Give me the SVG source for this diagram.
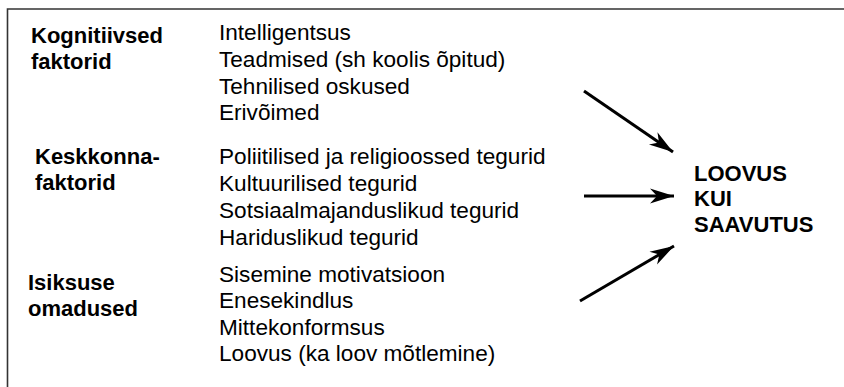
<svg xmlns="http://www.w3.org/2000/svg" width="844" height="387" viewBox="0 0 844 387">
<defs>
<style>
.t{font-family:"Liberation Sans",Arial,sans-serif;font-size:22.6px;fill:#000}
.b{font-family:"Liberation Sans",Arial,sans-serif;font-size:22px;font-weight:bold;fill:#000}
.c{stroke:#000;stroke-width:3;fill:none}
</style>
<marker id="ah" markerUnits="userSpaceOnUse" markerWidth="26" markerHeight="18" refX="24" refY="9" orient="auto">
<path d="M0,1.5 L24,9 L0,16.5 L7,9 z" fill="#000"/>
</marker>
</defs>
<rect width="844" height="387" fill="#fff"/>
<path d="M7.5 387 V9 H844" fill="none" stroke="#333" stroke-width="1.6"/>
<g id="kognitiivsed">
<text class="b" x="31" y="43">Kognitiivsed</text>
<text class="b" x="31" y="69">faktorid</text>
<text class="t" x="219" y="40">Intelligentsus</text>
<text class="t" x="219" y="67">Teadmised (sh koolis õpitud)</text>
<text class="t" x="219" y="94">Tehnilised oskused</text>
<text class="t" x="219" y="120">Erivõimed</text>
</g>
<g id="keskkonna">
<text class="b" x="35" y="164">Keskkonna-</text>
<text class="b" x="35" y="190">faktorid</text>
<text class="t" x="219" y="164">Poliitilised ja religioossed tegurid</text>
<text class="t" x="219" y="191">Kultuurilised tegurid</text>
<text class="t" x="219" y="218">Sotsiaalmajanduslikud tegurid</text>
<text class="t" x="219" y="245">Hariduslikud tegurid</text>
</g>
<g id="isiksuse">
<text class="b" x="28" y="290">Isiksuse</text>
<text class="b" x="28" y="316">omadused</text>
<text class="t" x="219" y="282">Sisemine motivatsioon</text>
<text class="t" x="219" y="308">Enesekindlus</text>
<text class="t" x="219" y="335">Mittekonformsus</text>
<text class="t" x="219" y="361">Loovus (ka loov mõtlemine)</text>
</g>
<g id="loovus">
<text class="b" x="694" y="181">LOOVUS</text>
<text class="b" x="694" y="206">KUI</text>
<text class="b" x="694" y="232">SAAVUTUS</text>
</g>
<g id="connectors">
<line class="c" x1="584" y1="91" x2="673" y2="152" marker-end="url(#ah)"/>
<line class="c" x1="584" y1="196" x2="674" y2="196" marker-end="url(#ah)"/>
<line class="c" x1="580" y1="301" x2="674" y2="246" marker-end="url(#ah)"/>
</g>
</svg>
